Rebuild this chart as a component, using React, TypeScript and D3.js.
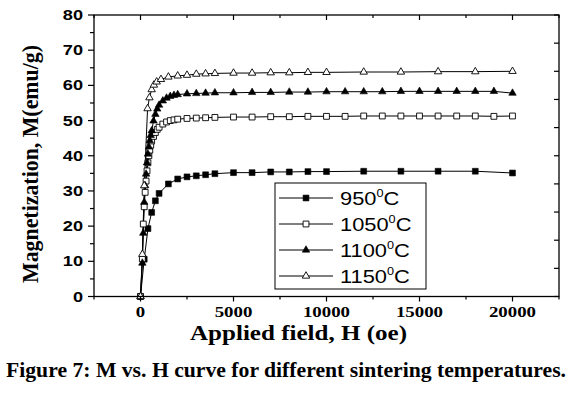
import React from 'react';
import { scaleLinear, line, symbol, symbolSquare, symbolTriangle, range } from 'd3';

// applied field (Oe) and magnetization (emu/g)
const h950 = [0, 200, 400, 600, 800, 1000, 1500, 2000, 2500, 3000, 3500, 4000, 5000, 6000, 7000, 8000, 9000, 10000, 12000, 14000, 16000, 18000, 20000];
const m950 = [0, 10.6, 19.3, 23.9, 27.2, 29.3, 32.0, 33.4, 34.0, 34.3, 34.6, 34.9, 35.2, 35.2, 35.4, 35.4, 35.5, 35.5, 35.6, 35.6, 35.6, 35.6, 35.1];

const h1050 = [0, 100, 150, 200, 250, 300, 350, 400, 450, 500, 550, 600, 700, 800, 900, 1000, 1200, 1400, 1600, 1800, 2000, 2500, 3000, 3500, 4000,
  5000, 6000, 7000, 8000, 9000, 10000, 11000, 12000, 13000, 14000, 15000, 16000, 17000, 18000, 19000, 20000];
const m1050 = [0, 10.7, 20.6, 25.5, 29.6, 32.8, 35.7, 38.0, 40.0, 41.6, 43.0, 44.2, 45.5, 46.6, 47.5, 48.1, 49.0, 49.6, 50.0, 50.2, 50.4, 50.6, 50.7, 50.8, 50.9,
  51.0, 51.0, 51.1, 51.1, 51.2, 51.2, 51.2, 51.3, 51.3, 51.3, 51.3, 51.3, 51.3, 51.3, 51.2, 51.3];

const h1100 = [0, 100, 150, 200, 250, 300, 350, 400, 450, 500, 550, 600, 700, 800, 900, 1000, 1200, 1400, 1600, 1800, 2000, 2500, 3000, 3500, 4000,
  5000, 6000, 7000, 8000, 9000, 10000, 11000, 12000, 13000, 14000, 15000, 16000, 17000, 18000, 19000, 20000];
const m1100 = [0, 9.5, 18.0, 26.8, 31.5, 34.8, 38.0, 40.5, 42.5, 44.3, 45.8, 47.1, 49.9, 51.8, 53.3, 54.4, 55.6, 56.4, 56.9, 57.2, 57.4, 57.6, 57.7, 57.8, 57.9,
  57.9, 58.0, 58.0, 58.1, 58.1, 58.2, 58.2, 58.2, 58.2, 58.3, 58.3, 58.3, 58.3, 58.3, 58.3, 57.8];

const h1150 = [0, 100, 200, 380, 480, 600, 720, 870, 1100, 1500, 2000, 2500, 3000, 3500, 4000, 5000, 6000, 7000, 8000, 9000, 10000, 12000, 14000, 16000, 18000, 20000];
const m1150 = [0, 12.0, 31.5, 53.4, 56.5, 58.8, 60.1, 61.0, 61.7, 62.4, 62.7, 62.9, 63.2, 63.3, 63.4, 63.5, 63.5, 63.6, 63.6, 63.7, 63.7, 63.8, 63.8, 63.9, 63.9, 64.0];

const seriesNames = ['950', '1050', '1100', '1150'];
const xTicks = [0, 5000, 10000, 15000, 20000];
const yTicks = [0, 10, 20, 30, 40, 50, 60, 70, 80];

type Marker = 'sqFill' | 'sqOpen' | 'triFill' | 'triOpen';
const markers: Marker[] = ['sqFill', 'sqOpen', 'triFill', 'triOpen'];
const allH = [h950, h1050, h1100, h1150];
const allM = [m950, m1050, m1100, m1150];

const serif = '"Liberation Serif", "Times New Roman", serif';
const sans = '"Liberation Sans", Arial, sans-serif';

const sqPath = symbol(symbolSquare, 34)()!;
const triPath = symbol(symbolTriangle, 24)()!;

const Mark = ({ type, x, y }: { type: Marker; x: number; y: number }) => {
  const d = type.startsWith('sq') ? sqPath : triPath;
  const filled = type.endsWith('Fill');
  return <path d={d} transform={`translate(${x},${y})`} fill={filled ? '#000' : '#fff'} stroke="#000" strokeWidth={filled ? 0.6 : 0.9} />;
};

export default function App() {
  const x = scaleLinear().domain([-2500, 22500]).range([94, 559]);
  const y = scaleLinear().domain([0, 80]).range([296.5, 15]);
  const left = x(-2500), right = x(22500), top = y(80), bottom = y(0);

  const lineGen = line<[number, number]>().x(d => x(d[0])).y(d => y(d[1]));

  const xMinor = range(-2500, 22501, 2500);
  const yMinor = range(0, 80.1, 5);
  const rightTicks = range(0, 81, 8);

  return (
    <svg width={576} height={396} style={{ position: 'absolute', left: 0, top: 0, background: '#fff' }}>
      <rect width={576} height={396} fill="#fff" />

      {/* data */}
      {allH.map((hs, s) => {
        const pts = hs.map((h, i) => [h, allM[s][i]] as [number, number]);
        return <path key={'l' + s} d={lineGen(pts)!} fill="none" stroke="#000" strokeWidth={1} />;
      })}
      {allH.map((hs, s) => hs.map((h, i) => (
        <Mark key={`m${s}-${i}`} type={markers[s]} x={x(h)} y={y(allM[s][i])} />
      )))}

      {/* frame */}
      <rect x={left} y={top} width={right - left} height={bottom - top} fill="none" stroke="#000" strokeWidth={1.3} />

      {/* bottom / top ticks */}
      {xMinor.map(v => {
        const major = v % 5000 === 0;
        return (
          <g key={'xt' + v}>
            <line x1={x(v)} x2={x(v)} y1={bottom} y2={bottom + (major ? 5 : 3)} stroke="#000" strokeWidth={1.2} />
            <line x1={x(v)} x2={x(v)} y1={top} y2={top + (major ? 5 : 3)} stroke="#000" strokeWidth={1.2} />
          </g>
        );
      })}
      {/* left ticks */}
      {yMinor.map(v => (
        <line key={'yt' + v} x1={left} x2={left - (v % 10 === 0 ? 6 : 4)} y1={y(v)} y2={y(v)} stroke="#000" strokeWidth={1.2} />
      ))}
      {/* right ticks */}
      {rightTicks.map(v => (
        <line key={'rt' + v} x1={right} x2={right - 5} y1={y(v)} y2={y(v)} stroke="#000" strokeWidth={1.2} />
      ))}

      {/* tick labels */}
      {xTicks.map(v => (
        <text key={'xl' + v} transform={`translate(${x(v)},${316.5}) scale(1.3,1)`} textAnchor="middle"
          fontFamily={serif} fontWeight="bold" fontSize={14.5} fill="#000">{v}</text>
      ))}
      {yTicks.map(v => (
        <text key={'yl' + v} transform={`translate(${83},${y(v) + 5}) scale(1.3,1)`} textAnchor="end"
          fontFamily={sans} fontWeight="bold" fontSize={14} fill="#000">{v}</text>
      ))}

      {/* axis titles */}
      <text x={190} y={340} fontFamily={serif} fontWeight="bold" fontSize={21} textLength={217} lengthAdjust="spacingAndGlyphs" fill="#000">
        Applied field, H (oe)
      </text>
      <text transform={`translate(38,${283}) rotate(-90)`} fontFamily={serif} fontWeight="bold" fontSize={23}
        textLength={238} lengthAdjust="spacingAndGlyphs" fill="#000">
        Magnetization, M(emu/g)
      </text>

      {/* legend */}
      <rect x={275} y={183} width={151} height={106} fill="#fff" stroke="#000" strokeWidth={1} />
      {seriesNames.map((name, i) => {
        const cy = 198 + i * 26;
        return (
          <g key={'lg' + i}>
            <line x1={279} x2={333} y1={cy} y2={cy} stroke="#000" strokeWidth={1} />
            <Mark type={markers[i]} x={306} y={cy} />
            <text transform={`translate(340,${cy + 7}) scale(1.15,1)`} fontFamily={sans} fontSize={19} fill="#000">
              {name}
              <tspan fontSize={11} dy={-8}>0</tspan>
              <tspan dy={8}>C</tspan>
            </text>
          </g>
        );
      })}

      {/* caption */}
      <text x={6} y={377} fontFamily={serif} fontWeight="bold" fontSize={21} textLength={560}
        lengthAdjust="spacingAndGlyphs" fill="#000">
        Figure 7: M vs. H curve for different sintering temperatures.
      </text>
    </svg>
  );
}
